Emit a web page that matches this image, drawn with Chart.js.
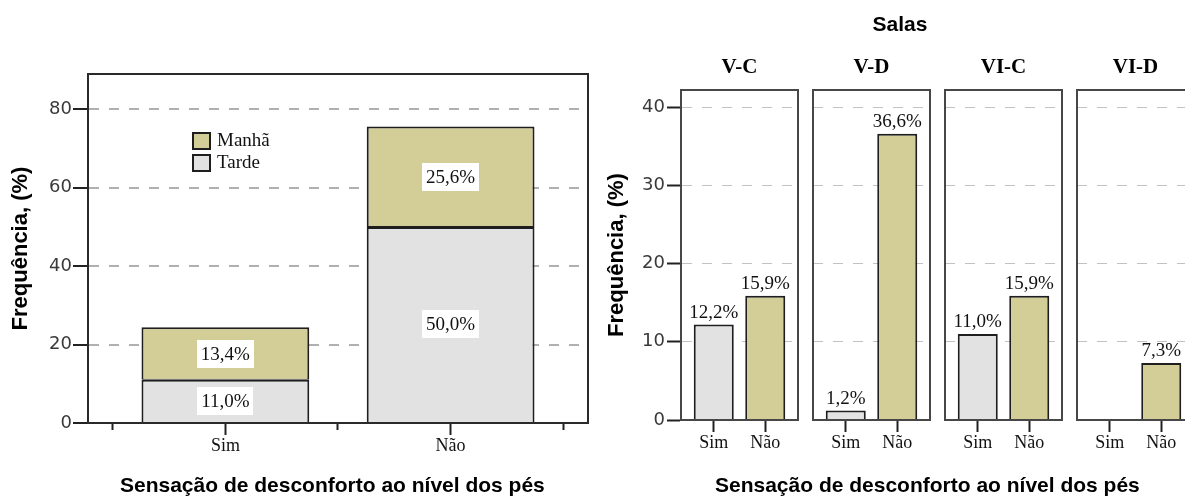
<!DOCTYPE html>
<html><head><meta charset="utf-8">
<script src="https://cdn.jsdelivr.net/npm/chart.js@4.4.1/dist/chart.umd.min.js"></script>
<style>
html,body{margin:0;padding:0;background:#fff;overflow:hidden}
#wrap{position:relative;width:1185px;height:497px;overflow:hidden;background:#fff}
canvas{position:absolute;top:0}
.t{position:absolute;font:bold 21px "Liberation Sans",Arial,sans-serif;color:#000;white-space:nowrap;text-align:center;line-height:21px}
</style></head><body>
<div id="wrap">
<canvas id="cL" width="600" height="497" style="left:0px"></canvas>
<canvas id="p0" width="203" height="497" style="left:600px"></canvas>
<canvas id="p1" width="127" height="497" style="left:808px"></canvas>
<canvas id="p2" width="127" height="497" style="left:940px"></canvas>
<canvas id="p3" width="127" height="497" style="left:1072px"></canvas>
<div class="t" style="left:120px;width:400px;top:474px">Sensação de desconforto ao nível dos pés</div>
<div class="t" style="left:715px;width:400px;top:474px">Sensação de desconforto ao nível dos pés</div>
<div class="t" style="left:850px;width:100px;top:13px">Salas</div>
</div>
<script>
// ---- data ----
const answerCategories = ['Sim', 'Não'];
const periodLabels = ['Manhã', 'Tarde'];
const manhaValues = [13.4, 25.6];
const tardeValues = [11.0, 50.0];
const leftYTicks = [0, 20, 40, 60, 80];
const rooms = ['V-C', 'V-D', 'VI-C', 'VI-D'];
const simByRoom = [12.2, 1.2, 11.0, null];
const naoByRoom = [15.9, 36.6, 15.9, 7.3];
const rightYTicks = [0, 10, 20, 30, 40];
const yTitle = 'Frequência, (%)';

// ---- styles ----
const GRAY = '#e2e2e2', KHAKI = '#d3cd97', INK = '#1e1e1e';
const SERIF = '"Liberation Serif","Times New Roman",serif';
const SANS = '"DejaVu Sans",sans-serif';
const fmt = v => v.toFixed(1).replace('.', ',') + '%';

const extras = {
  id: 'extras',
  afterDatasetsDraw(chart, args, o) {
    const {ctx, chartArea: a} = chart;
    ctx.save();
    if (o.boxedLabels) {
      ctx.font = '19px ' + SERIF;
      ctx.textAlign = 'center'; ctx.textBaseline = 'middle';
      chart.data.datasets.forEach((ds, di) => {
        chart.getDatasetMeta(di).data.forEach((el, i) => {
          const v = ds.data[i].y;
          if (v == null) return;
          const t = fmt(v);
          const w = Math.round(ctx.measureText(t).width + 8), h = 28;
          const yc = (el.y + el.base) / 2;
          ctx.fillStyle = '#fff';
          ctx.fillRect(Math.round(el.x - w / 2), Math.round(yc - h / 2), w, h);
          ctx.fillStyle = '#111';
          ctx.fillText(t, el.x, yc + 1);
        });
      });
    }
    if (o.topLabels) {
      ctx.font = '19px ' + SERIF;
      ctx.textAlign = 'center'; ctx.textBaseline = 'bottom';
      ctx.fillStyle = '#111';
      chart.data.datasets.forEach((ds, di) => {
        chart.getDatasetMeta(di).data.forEach((el, i) => {
          const v = ds.data[i].y;
          if (v == null) return;
          ctx.fillText(fmt(v), el.x, el.y - 2);
        });
      });
    }
    if (o.frame) {
      ctx.strokeStyle = o.frame.color; ctx.lineWidth = o.frame.width;
      ctx.strokeRect(a.left, a.top, a.right - a.left, a.bottom - a.top);
    }
    if (o.title) {
      ctx.font = 'bold 21px ' + SERIF;
      ctx.fillStyle = '#000'; ctx.textAlign = 'center'; ctx.textBaseline = 'middle';
      ctx.fillText(o.title.text, (a.left + a.right) / 2, o.title.y);
    }
    if (o.legend) {
      const L = o.legend;
      ctx.font = '19px ' + SERIF;
      ctx.textAlign = 'left'; ctx.textBaseline = 'middle';
      L.items.forEach((it, k) => {
        const x = a.left + L.dx, y = a.top + L.dy + k * L.step;
        ctx.fillStyle = it.color; ctx.fillRect(x, y, L.w, L.h);
        ctx.strokeStyle = INK; ctx.lineWidth = 2; ctx.strokeRect(x, y, L.w, L.h);
        ctx.fillStyle = '#111';
        ctx.fillText(it.label, x + L.w + 7, y + L.h / 2);
      });
    }
    ctx.restore();
  }
};
Chart.register(extras);

// ---- left chart ----
const xTickValues = answerCategories.flatMap((_, i) => [i - 0.5, i]).concat([answerCategories.length - 0.5]);
new Chart(document.getElementById('cL'), {
  type: 'bar',
  data: {
    datasets: [
      {label: periodLabels[1], data: tardeValues.map((v, i) => ({x: i, y: v})),
       backgroundColor: GRAY, borderColor: INK, borderWidth: 2},
      {label: periodLabels[0], data: manhaValues.map((v, i) => ({x: i, y: v})),
       backgroundColor: KHAKI, borderColor: INK, borderWidth: {top: 2, left: 2, right: 2, bottom: 1}, borderSkipped: false}
    ]
  },
  options: {
    responsive: false, animation: false, devicePixelRatio: 1,
    layout: {padding: {top: 74, right: 12, left: 0, bottom: 0}},
    barPercentage: 1.49, categoryPercentage: 1,
    plugins: {
      legend: {display: false}, tooltip: {enabled: false},
      extras: {
        boxedLabels: true,
        frame: {color: '#2a2a2a', width: 2},
        legend: {dx: 105, dy: 59, step: 22, w: 17, h: 16,
                 items: [{label: periodLabels[0], color: KHAKI}, {label: periodLabels[1], color: GRAY}]}
      }
    },
    scales: {
      x: {
        type: 'linear', min: -0.61, max: 1.61, stacked: true, offset: false,
        afterBuildTicks: s => { s.ticks = xTickValues.map(v => ({value: v})); },
        afterFit: s => { s.height = 74; },
        ticks: {callback: v => Number.isInteger(v) ? answerCategories[v] : '',
                font: {family: SERIF, size: 18}, color: '#111', padding: 0, maxRotation: 0, autoSkip: false},
        grid: {offset: false, drawOnChartArea: false, tickLength: 12, tickWidth: 2, tickColor: '#222',
               tickBorderDash: c => (c.tick && Number.isInteger(c.tick.value)) ? [] : [6, 100]},
        border: {display: true, color: '#222', width: 2}
      },
      y: {
        min: 0, max: 89, stacked: true,
        afterBuildTicks: s => { s.ticks = leftYTicks.map(v => ({value: v})); },
        afterFit: s => { s.width = 88; },
        ticks: {font: {family: SANS, size: 18}, color: '#3a3a3a', padding: 1},
        grid: {color: '#b0b0b0', lineWidth: 2, tickLength: 15, tickWidth: 2, tickColor: '#222'},
        border: {display: true, color: '#222', width: 2, dash: [10, 10]},
        title: {display: true, text: yTitle, color: '#000',
                font: {family: '"Liberation Sans",Arial,sans-serif', size: 22, weight: 'bold'},
                padding: {top: 8, bottom: 0}}
      }
    }
  }
});

// ---- right panels ----
rooms.forEach((room, r) => {
  const first = r === 0;
  new Chart(document.getElementById('p' + r), {
    type: 'bar',
    data: {
      datasets: [{
        label: room,
        data: answerCategories.map((c, i) => ({x: i, y: (i === 0 ? simByRoom : naoByRoom)[r]})),
        backgroundColor: [GRAY, KHAKI], borderColor: INK, borderWidth: 2
      }]
    },
    options: {
      responsive: false, animation: false, devicePixelRatio: 1,
      layout: {padding: {top: 90, right: 5, left: first ? 0 : 5, bottom: 0}},
      barPercentage: 0.777, categoryPercentage: 1,
      plugins: {
        legend: {display: false}, tooltip: {enabled: false},
        extras: {topLabels: true, frame: {color: '#474747', width: 2}, title: {text: room, y: 68}}
      },
      scales: {
        x: {
          type: 'linear', min: -0.636, max: 1.636, offset: false,
          afterBuildTicks: s => { s.ticks = answerCategories.map((_, i) => ({value: i})); },
          afterFit: s => { s.height = 77; },
          ticks: {callback: v => answerCategories[v], font: {family: SERIF, size: 18}, color: '#111',
                  padding: 0, maxRotation: 0, autoSkip: false},
          grid: {offset: false, drawOnChartArea: false, tickLength: 12, tickWidth: 2, tickColor: '#222'},
          border: {display: true, color: '#222', width: 2}
        },
        y: {
          min: 0, max: 42.2,
          afterBuildTicks: s => { s.ticks = rightYTicks.map(v => ({value: v})); },
          afterFit: s => { s.width = first ? 81 : 0; },
          ticks: {display: first, font: {family: SANS, size: 18}, color: '#3a3a3a', padding: 2},
          grid: {color: '#c2c2c2', lineWidth: 1, drawTicks: first, tickLength: 14, tickWidth: 2, tickColor: '#222'},
          border: {display: first, color: '#222', width: 2, dash: [10, 10]},
          title: {display: first, text: yTitle, color: '#000',
                  font: {family: '"Liberation Sans",Arial,sans-serif', size: 22, weight: 'bold'},
                  padding: {top: 4, bottom: 0}}
        }
      }
    }
  });
});
</script>
</body></html>
